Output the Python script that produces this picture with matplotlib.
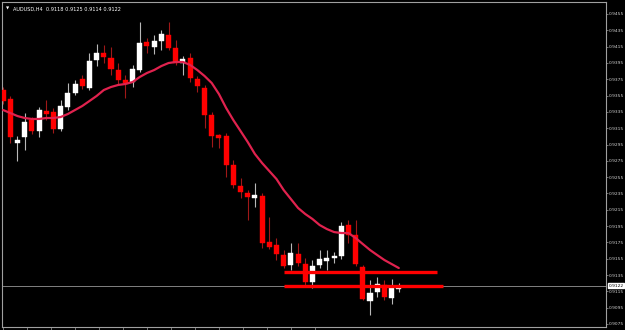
import matplotlib
matplotlib.use('Agg')
import matplotlib.pyplot as plt
import numpy as np

symbol_title = 'AUDUSD,H4  0.9118 0.9125 0.9114 0.9122'

opens = [0.93618, 0.93508, 0.92968, 0.93042, 0.93250, 0.93116, 0.93361, 0.93349,
         0.93140, 0.93410, 0.93581, 0.93753, 0.93643, 0.93986, 0.94072, 0.94011,
         0.93863, 0.93741, 0.93716, 0.93863, 0.94207, 0.94145, 0.94219, 0.94293,
         0.94133, 0.93949, 0.94011, 0.93753, 0.93643, 0.93312, 0.93066, 0.93054,
         0.92699, 0.92441, 0.92355, 0.92294, 0.92319, 0.91755, 0.91718, 0.91595,
         0.91473, 0.91608, 0.91485, 0.91264, 0.91473, 0.91522, 0.91559, 0.91583,
         0.91963, 0.91841, 0.91448, 0.91031, 0.91142, 0.91228, 0.91068, 0.91179]
highs = [0.93655, 0.93545, 0.93053, 0.93336, 0.93287, 0.93410, 0.93496, 0.93398,
         0.93496, 0.93704, 0.93741, 0.93802, 0.94072, 0.94182, 0.94170, 0.94145,
         0.93949, 0.93802, 0.93925, 0.94452, 0.94256, 0.94293, 0.94354, 0.94452,
         0.94231, 0.94035, 0.94072, 0.93790, 0.93680, 0.93349, 0.93079, 0.93091,
         0.92760, 0.92539, 0.92392, 0.92478, 0.92355, 0.92061, 0.91804, 0.91657,
         0.91743, 0.91743, 0.91559, 0.91534, 0.91657, 0.91657, 0.91632, 0.92000,
         0.92024, 0.92024, 0.91473, 0.91289, 0.91326, 0.91289, 0.91301, 0.91252]
lows = [0.93447, 0.92968, 0.92747, 0.92883, 0.93079, 0.93042, 0.93250, 0.93091,
        0.93116, 0.93373, 0.93557, 0.93630, 0.93618, 0.93912, 0.93949, 0.93802,
        0.93680, 0.93520, 0.93655, 0.93839, 0.94072, 0.94060, 0.94109, 0.94109,
        0.93925, 0.93802, 0.93716, 0.93594, 0.93152, 0.92919, 0.92907, 0.92552,
        0.92417, 0.92294, 0.92024, 0.92184, 0.91681, 0.91669, 0.91534, 0.91436,
        0.91411, 0.91461, 0.91215, 0.91191, 0.91436, 0.91411, 0.91497, 0.91546,
        0.91743, 0.91461, 0.91044, 0.90860, 0.91080, 0.91044, 0.90995, 0.91142]
closes = [0.93483, 0.93042, 0.93004, 0.93226, 0.93116, 0.93373, 0.93324, 0.93140,
          0.93422, 0.93581, 0.93692, 0.93667, 0.93974, 0.94072, 0.94023, 0.93876,
          0.93741, 0.93704, 0.93876, 0.94194, 0.94158, 0.94219, 0.94305, 0.94133,
          0.93949, 0.93998, 0.93765, 0.93667, 0.93312, 0.93054, 0.93030, 0.92699,
          0.92454, 0.92368, 0.92306, 0.92331, 0.91743, 0.91693, 0.91608, 0.91461,
          0.91620, 0.91497, 0.91264, 0.91461, 0.91546, 0.91559, 0.91583, 0.91951,
          0.91841, 0.91485, 0.91056, 0.91129, 0.91240, 0.91080, 0.91191, 0.91220]

moving_avg = [0.93373, 0.93336, 0.93299, 0.93275, 0.93263, 0.93263, 0.93275, 0.93275,
              0.93287, 0.93324, 0.93373, 0.93422, 0.93483, 0.93545, 0.93618, 0.93655,
              0.93680, 0.93692, 0.93716, 0.93778, 0.93827, 0.93863, 0.93912, 0.93949,
              0.93962, 0.93962, 0.93925, 0.93863, 0.93790, 0.93704, 0.93569, 0.93398,
              0.93250, 0.93116, 0.92981, 0.92834, 0.92723, 0.92625, 0.92527, 0.92392,
              0.92282, 0.92172, 0.92098, 0.92037, 0.91963, 0.91914, 0.91877, 0.91865,
              0.91865, 0.91804, 0.91730, 0.91657, 0.91595, 0.91534, 0.91485, 0.91436]

# horizontal levels: (price, first bar, last bar)
levels = [(0.91387, 39, 60.3), (0.91215, 39, 61.1)]
bid_price = 0.9122
price_ticks = [0.9075, 0.9095, 0.9115, 0.9135, 0.9155, 0.9175, 0.9195, 0.9215,
               0.9235, 0.9255, 0.9275, 0.9295, 0.9315, 0.9335, 0.9355, 0.9375,
               0.9395, 0.9415, 0.9435, 0.9455]


def draw_candles(ax):
    for i, (o, h, l, c) in enumerate(zip(opens, highs, lows, closes)):
        bull = c >= o
        body_col = 'white' if bull else '#ff0000'
        wick_col = '#b8b8b8' if bull else '#a01818'
        ax.vlines(i, l, h, color=wick_col, lw=0.8, zorder=2)
        bottom = min(o, c)
        height = max(abs(c - o), 0.00003)
        ax.bar(i, height, bottom=bottom, width=0.7, color=body_col,
               edgecolor=body_col, lw=0.3, zorder=3)


def main():
    fig = plt.figure(figsize=(6.25, 3.3), dpi=100, facecolor='black')
    ax = fig.add_axes([2 / 625, 3 / 330, 604 / 625, 325 / 330])
    ax.set_facecolor('black')

    draw_candles(ax)
    ax.plot(range(len(moving_avg)), moving_avg, color='#e0224e', lw=1.6,
            zorder=4, solid_capstyle='round')

    ax.axhline(bid_price, color='#808080', lw=0.7, zorder=1)
    for price, x0, x1 in levels:
        ax.hlines(price, x0, x1, color='#ff0000', lw=2.4, zorder=5)

    ax.set_xlim(-0.15, 83.8)
    ax.set_ylim(0.90713, 0.94697)

    ax.yaxis.tick_right()
    ax.set_yticks(price_ticks)
    ax.set_yticklabels(['%.4f' % p for p in price_ticks], fontsize=3.2,
                       color='#d0d0d0')
    ax.tick_params(axis='y', length=1.5, width=0.5, color='#a0a0a0', pad=0.8)
    ax.set_xticks(np.arange(0, 45, 24 / 7.2))
    ax.tick_params(axis='x', length=3, width=0.5, color='#a0a0a0',
                   direction='out', labelbottom=False)
    for sp in ax.spines.values():
        sp.set_color('#a0a0a0')
        sp.set_linewidth(0.8)

    ax.text(1.004, bid_price, '%.4f' % bid_price, transform=ax.get_yaxis_transform(),
            fontsize=3.2, color='black', va='center', ha='left',
            bbox=dict(boxstyle='square,pad=0.12', fc='white', ec='white'))

    ax.text(0.006, 0.985, '\u25bc', transform=ax.transAxes, fontsize=3,
            color='white', va='top', ha='left')
    ax.text(0.018, 0.985, symbol_title, transform=ax.transAxes, fontsize=3.6,
            color='white', va='top', ha='left')

    fig.savefig('out.png', dpi=100, facecolor='black')


if __name__ == '__main__':
    main()
